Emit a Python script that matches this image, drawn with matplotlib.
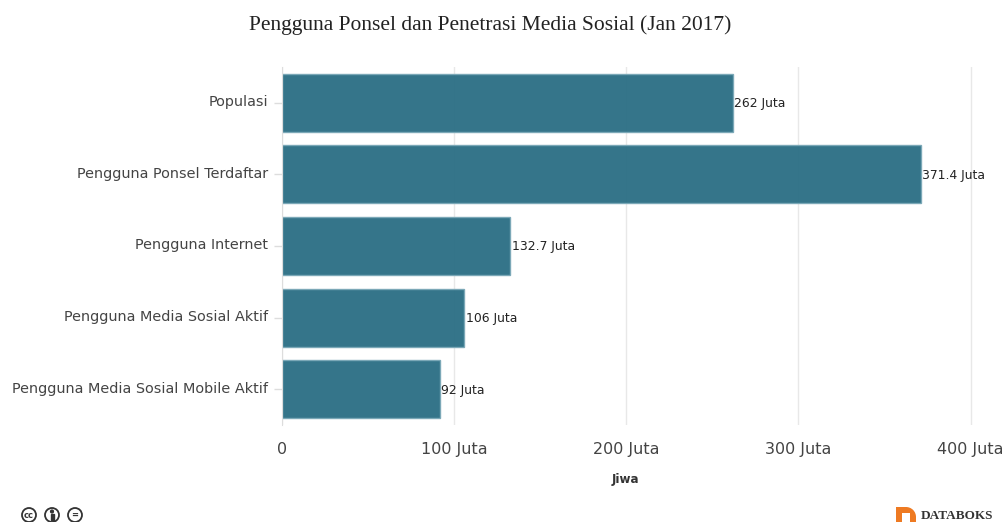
import matplotlib
matplotlib.use('Agg')
import matplotlib.pyplot as plt
from matplotlib.patches import Circle, Rectangle, Wedge
from matplotlib.transforms import ScaledTranslation

categories = ['Populasi', 'Pengguna Ponsel Terdaftar', 'Pengguna Internet',
              'Pengguna Media Sosial Aktif', 'Pengguna Media Sosial Mobile Aktif']
values = [262, 371.4, 132.7, 106, 92]
value_labels = ['262 Juta', '371.4 Juta', '132.7 Juta', '106 Juta', '92 Juta']
xticks = [0, 100, 200, 300, 400]
xtick_labels = ['0', '100 Juta', '200 Juta', '300 Juta', '400 Juta']

W, H = 1005, 522
fig = plt.figure(figsize=(W / 100, H / 100), dpi=100)
ax = fig.add_axes([282 / W, 1 - 425 / H, (W - 282) / W, 358 / H])

ax.barh(range(len(values)), values, height=0.81, color='#2a6e84',
        edgecolor='#7aa8b7', linewidth=1, alpha=0.95, zorder=2)
ax.set_ylim(4.5, -0.5)
ax.set_xlim(0, 420)

for i, v in enumerate(values):
    ax.annotate(value_labels[i], (v, i), xytext=(0.8, -0.6), textcoords='offset points',
                va='center', ha='left', fontsize=8.9, color='#222222',
                annotation_clip=False, zorder=3)

ax.set_yticks(range(len(categories)))
ax.set_yticklabels(categories, fontsize=10.4, color='#444444')
ax.set_xticks(xticks)
ax.set_xticklabels(xtick_labels, fontsize=11.5, color='#444444')
ax.tick_params(axis='y', length=6, color='#dddddd', width=1, pad=4)
ax.tick_params(axis='x', length=0, pad=12)
ax.grid(axis='x', color='#e8e8e8', linewidth=1, zorder=1)
ax.set_axisbelow(True)
for s in ['top', 'right', 'bottom']:
    ax.spines[s].set_visible(False)
ax.spines['left'].set_color('#dddddd')

# category labels sit a little above their tick marks
shift = ScaledTranslation(0, 1.5 / 72, fig.dpi_scale_trans)
for lab in ax.get_yticklabels():
    lab.set_transform(lab.get_transform() + shift)

fig.text(490.5 / W, 1 - 25 / H, 'Pengguna Ponsel dan Penetrasi Media Sosial (Jan 2017)',
         family='Liberation Serif', fontsize=15.45, color='#222222', ha='center', va='center')
fig.text(625 / W, 1 - 480 / H, 'Jiwa', fontsize=8.6, fontweight='bold', color='#333333',
         ha='center', va='center')

# overlay in pixel coordinates for the licence icons and the logo
ov = fig.add_axes([0, 0, 1, 1])
ov.set_xlim(0, W)
ov.set_ylim(H, 0)
ov.axis('off')
ov.patch.set_alpha(0)
for cx, mark in zip([29, 52, 75], ['cc', '', '=']):
    ov.add_patch(Circle((cx, 515), 7, fill=False, edgecolor='#333333', linewidth=1.3))
    if mark:
        ov.text(cx, 515, mark, fontsize=6, fontweight='bold', color='#333333', ha='center', va='center')
ov.add_patch(Circle((52, 511.5), 1.4, color='#333333'))
ov.add_patch(Rectangle((50.5, 513.5), 3, 6, color='#333333'))

# logo runs off the bottom edge of the figure
ov.add_patch(Rectangle((896, 507), 10, 16, color='#ee7a22', linewidth=0))
ov.add_patch(Wedge((906, 517), 10, 270, 360, color='#ee7a22', linewidth=0))
ov.add_patch(Rectangle((906, 517), 10, 6, color='#ee7a22', linewidth=0))
ov.add_patch(Rectangle((902, 513), 8, 10, color='white', linewidth=0))
ov.text(921, 516, 'DATABOKS', family='Liberation Serif', fontsize=9.5, fontweight='bold',
        color='#333333', ha='left', va='center')

fig.savefig('out.png', dpi=100)
